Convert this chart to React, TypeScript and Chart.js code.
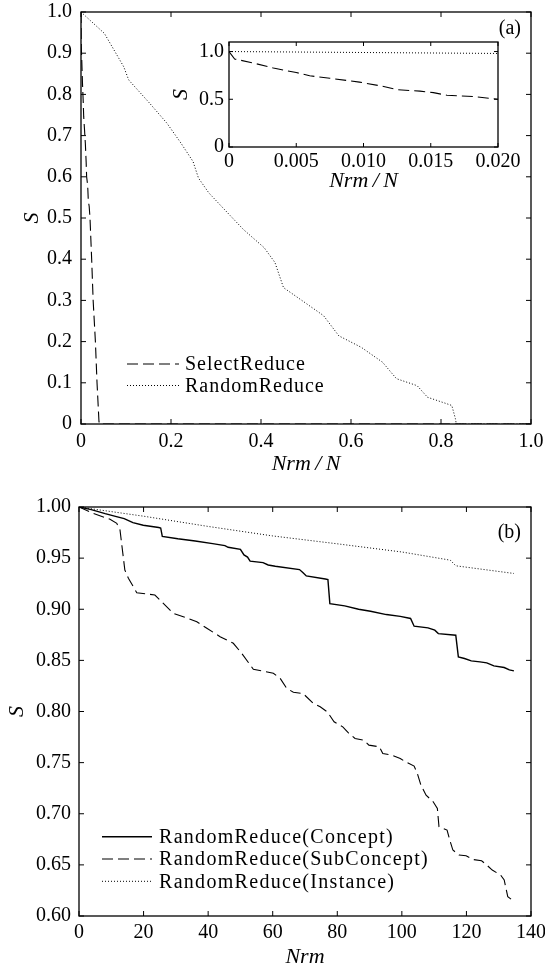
import { useEffect, useRef } from 'react';
import { Chart, registerables } from 'chart.js';
Chart.register(...registerables);

const FONT = '"Liberation Serif", "Times New Roman", "DejaVu Serif", serif';

// ---------- Panel (a) data ----------
const selectX = [0, 0.00042, 0.0018, 0.0033, 0.005, 0.006, 0.0075, 0.0097, 0.0115, 0.0125, 0.0142, 0.0152, 0.0162, 0.0182, 0.02, 0.0237, 0.027, 0.032, 0.0356, 0.04, 0.041, 1.0];
const selectY = [1.0, 0.922, 0.88, 0.827, 0.78, 0.746, 0.72, 0.68, 0.634, 0.6, 0.585, 0.57, 0.542, 0.528, 0.5, 0.4, 0.3, 0.2, 0.1, 0.005, 0, 0];
const randomX = [0, 0.052, 0.095, 0.106, 0.153, 0.191, 0.222, 0.249, 0.261, 0.284, 0.315, 0.361, 0.407, 0.431, 0.45, 0.492, 0.539, 0.573, 0.623, 0.67, 0.701, 0.747, 0.77, 0.824, 0.832, 0.834, 1.0];
const randomY = [1.0, 0.948, 0.867, 0.835, 0.778, 0.73, 0.682, 0.637, 0.597, 0.561, 0.525, 0.472, 0.428, 0.392, 0.331, 0.299, 0.263, 0.214, 0.186, 0.15, 0.11, 0.093, 0.065, 0.045, 0.013, 0, 0];
const aXTicks = [0, 0.2, 0.4, 0.6, 0.8, 1.0];
const aXLabels = ['0', '0.2', '0.4', '0.6', '0.8', '1.0'];
const aYTicks = [0, 0.1, 0.2, 0.3, 0.4, 0.5, 0.6, 0.7, 0.8, 0.9, 1.0];
const aYLabels = ['0', '0.1', '0.2', '0.3', '0.4', '0.5', '0.6', '0.7', '0.8', '0.9', '1.0'];
const insetXTicks = [0, 0.005, 0.01, 0.015, 0.02];
const insetXLabels = ['0', '0.005', '0.010', '0.015', '0.020'];
const insetYTicks = [0, 0.5, 1.0];
const insetYLabels = ['0', '0.5', '1.0'];

// ---------- Panel (b) data ----------
const conceptX = [0, 3.8, 8.1, 11.3, 14, 16.7, 19.9, 24.7, 25.3, 25.8, 30.6, 36, 41.4, 45.2, 46.2, 50, 51.1, 52.2, 53, 57, 58.6, 60.8, 68.3, 69.4, 70.4, 76.3, 77.1, 77.7, 82.3, 86.6, 90.3, 95.2, 99.5, 102.7, 103.8, 108.1, 110.2, 111.3, 116.7, 117.5, 119.4, 121.5, 124.2, 126.3, 128.5, 131.7, 133.3, 134.7];
const conceptY = [1.0, 0.9974, 0.9935, 0.9909, 0.9886, 0.9847, 0.9821, 0.98, 0.9795, 0.9713, 0.969, 0.9668, 0.9642, 0.9622, 0.9606, 0.9586, 0.9531, 0.951, 0.947, 0.9456, 0.9433, 0.942, 0.9388, 0.9358, 0.9326, 0.9296, 0.929, 0.9055, 0.9033, 0.9, 0.898, 0.8948, 0.893, 0.891, 0.8834, 0.8818, 0.8795, 0.8762, 0.8746, 0.8534, 0.8518, 0.8495, 0.8485, 0.8476, 0.8446, 0.843, 0.8407, 0.8397];
const subX = [0, 4.4, 9.6, 11.7, 12.7, 14.2, 15.3, 17.9, 23.5, 25.1, 29.2, 32.3, 36.5, 39.6, 43.7, 47.8, 50.4, 54, 60.2, 62.3, 64.3, 66.4, 69.4, 72.6, 74.7, 76.9, 79, 81.7, 83.3, 85.5, 88.2, 89.8, 93, 94.1, 96.8, 99.5, 101.1, 103.8, 104.8, 105.9, 107.5, 109.7, 111, 111.5, 114, 115, 115.8, 117.7, 119.9, 122, 124.7, 126.3, 128, 130.6, 131.7, 132.8, 133.9];
const subY = [1.0, 0.9938, 0.988, 0.984, 0.9775, 0.9384, 0.9303, 0.9162, 0.9139, 0.909, 0.896, 0.8927, 0.8878, 0.8814, 0.8732, 0.8667, 0.8569, 0.8413, 0.8374, 0.8325, 0.8227, 0.8188, 0.8176, 0.8078, 0.8046, 0.7997, 0.79, 0.785, 0.7795, 0.7736, 0.772, 0.7671, 0.7655, 0.759, 0.7573, 0.7541, 0.7508, 0.7466, 0.7394, 0.728, 0.7182, 0.7117, 0.7052, 0.6873, 0.684, 0.6726, 0.6645, 0.6596, 0.6589, 0.6553, 0.654, 0.6498, 0.6449, 0.64, 0.6352, 0.6189, 0.6163];
const instX = [0, 20, 40, 60, 80, 100, 115, 116.7, 134.7];
const instY = [1.0, 0.991, 0.981, 0.9717, 0.964, 0.956, 0.948, 0.9425, 0.935];
const bXTicks = [0, 20, 40, 60, 80, 100, 120, 140];
const bXLabels = ['0', '20', '40', '60', '80', '100', '120', '140'];
const bYTicks = [0.6, 0.65, 0.7, 0.75, 0.8, 0.85, 0.9, 0.95, 1.0];
const bYLabels = ['0.60', '0.65', '0.70', '0.75', '0.80', '0.85', '0.90', '0.95', '1.00'];

const pts = (xs: number[], ys: number[]) => xs.map((x, i) => ({ x, y: ys[i] }));

const decor = {
  id: 'decor',
  beforeDraw(chart: any, _a: any, o: any) {
    if (o.bg) {
      const { left, top, right, bottom } = chart.chartArea;
      const ctx = chart.ctx;
      ctx.save();
      ctx.fillStyle = '#fff';
      ctx.fillRect(left, top, right - left, bottom - top);
      ctx.restore();
    }
  },
  afterDraw(chart: any, _a: any, o: any) {
    const ctx = chart.ctx;
    const { left, top, right, bottom } = chart.chartArea;
    const tl = o.tickLen ?? 5;
    ctx.save();
    ctx.strokeStyle = '#000';
    ctx.lineWidth = 1.3;
    ctx.setLineDash([]);
    ctx.strokeRect(left, top, right - left, bottom - top);
    ctx.lineWidth = 1;
    const xs = chart.scales.x, ys = chart.scales.y;
    ctx.beginPath();
    xs.ticks.forEach((t: any) => {
      const p = xs.getPixelForValue(t.value);
      ctx.moveTo(p, bottom); ctx.lineTo(p, bottom - tl);
      ctx.moveTo(p, top); ctx.lineTo(p, top + tl);
    });
    ys.ticks.forEach((t: any) => {
      const p = ys.getPixelForValue(t.value);
      ctx.moveTo(left, p); ctx.lineTo(left + tl, p);
      ctx.moveTo(right, p); ctx.lineTo(right - tl, p);
    });
    ctx.stroke();
    const lg = o.legend;
    if (lg) {
      chart.data.datasets.forEach((ds: any, i: number) => {
        const y = lg.y + i * lg.rowH;
        ctx.save();
        ctx.strokeStyle = ds.borderColor;
        ctx.lineWidth = ds.borderWidth;
        ctx.setLineDash(ds.borderDash || []);
        ctx.beginPath();
        ctx.moveTo(lg.x, y);
        ctx.lineTo(lg.x + lg.len, y);
        ctx.stroke();
        ctx.setLineDash([]);
        ctx.font = `${lg.size}px ${FONT}`;
        (ctx as any).letterSpacing = `${lg.ls}px`;
        ctx.fillStyle = '#000';
        ctx.textAlign = 'left';
        ctx.textBaseline = 'middle';
        ctx.fillText(ds.label, lg.x + lg.len + lg.gap, y + 1);
        (ctx as any).letterSpacing = '0px';
        ctx.restore();
      });
    }
    if (o.label) {
      ctx.font = `20px ${FONT}`;
      ctx.fillStyle = '#000';
      ctx.textAlign = 'right';
      ctx.textBaseline = 'middle';
      ctx.fillText(o.label.text, o.label.x, o.label.y);
    }
    ctx.restore();
  },
};

function makeCfg(p: any): any {
  const tickFont = { family: FONT, size: 20 };
  const titleFont = { family: FONT, size: 22, style: 'italic', lineHeight: p.titleLH ?? 1.2 };
  return {
    type: 'line',
    data: { datasets: p.datasets },
    plugins: [decor],
    options: {
      responsive: false,
      animation: false,
      events: [],
      layout: { padding: p.pad },
      elements: { point: { radius: 0 }, line: { tension: 0 } },
      plugins: {
        legend: { display: false },
        tooltip: { enabled: false },
        decor: { legend: p.legend, label: p.label, bg: p.bg, tickLen: p.tickLen },
      },
      scales: {
        x: {
          type: 'linear',
          min: p.xMin,
          max: p.xMax,
          afterBuildTicks: (s: any) => { s.ticks = p.xTicks.map((v: number) => ({ value: v })); },
          afterFit: (s: any) => { s.height = p.xHeight; s.paddingLeft = 0; s.paddingRight = 0; s.paddingTop = 0; s.paddingBottom = 0; },
          grid: { display: false, drawTicks: false },
          border: { display: false },
          ticks: {
            autoSkip: false, maxRotation: 0, padding: p.xTickPad, color: '#000', font: tickFont,
            callback: (_v: any, i: number) => p.xLabels[i],
          },
          title: { display: true, text: p.xTitle, color: '#000', font: titleFont, padding: { top: 0, bottom: p.xTitlePad } },
        },
        y: {
          type: 'linear',
          min: p.yMin,
          max: p.yMax,
          afterBuildTicks: (s: any) => { s.ticks = p.yTicks.map((v: number) => ({ value: v })); },
          afterFit: (s: any) => { s.width = p.yWidth; s.paddingTop = 0; s.paddingBottom = 0; s.paddingLeft = 0; s.paddingRight = 0; },
          grid: { display: false, drawTicks: false },
          border: { display: false },
          ticks: {
            autoSkip: false, padding: p.yTickPad, color: '#000', font: tickFont,
            callback: (_v: any, i: number) => p.yLabels[i],
          },
          title: { display: true, text: 'S', color: '#000', font: { ...titleFont, lineHeight: 1.2 }, padding: { top: p.yTitlePad, bottom: 0 } },
        },
      },
    },
  };
}

const dashed = [11, 5];
const dotted = [1, 2];

function datasetsA() {
  return [
    { label: 'SelectReduce', data: pts(selectX, selectY), borderColor: '#000', borderWidth: 1.1, borderDash: dashed, fill: false },
    { label: 'RandomReduce', data: pts(randomX, randomY), borderColor: '#000', borderWidth: 1, borderDash: dotted, fill: false },
  ];
}

export default function App() {
  const aRef = useRef<HTMLCanvasElement>(null);
  const iRef = useRef<HTMLCanvasElement>(null);
  const bRef = useRef<HTMLCanvasElement>(null);

  useEffect(() => {
    document.body.style.margin = '0';
    Chart.defaults.font.family = FONT;
    const a = new Chart(aRef.current!, makeCfg({
      datasets: datasetsA(),
      xMin: 0, xMax: 1, xTicks: aXTicks, xLabels: aXLabels,
      yMin: 0, yMax: 1, yTicks: aYTicks, yLabels: aYLabels,
      xTitle: 'Nrm\u2009/\u2009N', pad: { top: 12, right: 14, bottom: 0, left: 0 },
      yWidth: 81, xHeight: 56, xTickPad: 6, yTickPad: 9, xTitlePad: 3, yTitlePad: 19,
      legend: { x: 127, y: 364, rowH: 21.5, len: 52, gap: 6, size: 20, ls: 1 },
      label: { text: '(a)', x: 521, y: 29 },
    }));
    const ins = new Chart(iRef.current!, makeCfg({
      datasets: datasetsA(),
      xMin: 0, xMax: 0.02, xTicks: insetXTicks, xLabels: insetXLabels,
      yMin: 0, yMax: 1.1, yTicks: insetYTicks, yLabels: insetYLabels,
      xTitle: 'Nrm\u2009/\u2009N', pad: { top: 12, right: 42, bottom: 0, left: 0 },
      yWidth: 69, xHeight: 48, xTickPad: 3, yTickPad: 5, xTitlePad: 1, yTitlePad: 8,
      bg: true, tickLen: 4,
    }));
    const b = new Chart(bRef.current!, makeCfg({
      datasets: [
        { label: 'RandomReduce(Concept)', data: pts(conceptX, conceptY), borderColor: '#000', borderWidth: 1.4, borderDash: [], fill: false },
        { label: 'RandomReduce(SubConcept)', data: pts(subX, subY), borderColor: '#000', borderWidth: 1.1, borderDash: dashed, fill: false },
        { label: 'RandomReduce(Instance)', data: pts(instX, instY), borderColor: '#000', borderWidth: 1, borderDash: dotted, fill: false },
      ],
      xMin: 0, xMax: 140, xTicks: bXTicks, xLabels: bXLabels,
      yMin: 0.6, yMax: 1.0, yTicks: bYTicks, yLabels: bYLabels,
      xTitle: 'Nrm', titleLH: 1.0, pad: { top: 27, right: 14, bottom: 0, left: 0 },
      yWidth: 79, xHeight: 52, xTickPad: 5, yTickPad: 8, xTitlePad: 0, yTitlePad: 4,
      legend: { x: 102, y: 356.7, rowH: 22.3, len: 50, gap: 7, size: 20, ls: 1.3 },
      label: { text: '(b)', x: 521, y: 53 },
    }));
    return () => { a.destroy(); ins.destroy(); b.destroy(); };
  }, []);

  return (
    <div style={{ position: 'relative', width: 545, height: 968, background: '#fff', overflow: 'hidden' }}>
      <canvas ref={aRef} width={545} height={480} style={{ position: 'absolute', left: 0, top: 0, width: 545, height: 480 }} />
      <canvas ref={iRef} width={380} height={165} style={{ position: 'absolute', left: 160, top: 30, width: 380, height: 165 }} />
      <canvas ref={bRef} width={545} height={488} style={{ position: 'absolute', left: 0, top: 480, width: 545, height: 488 }} />
    </div>
  );
}
